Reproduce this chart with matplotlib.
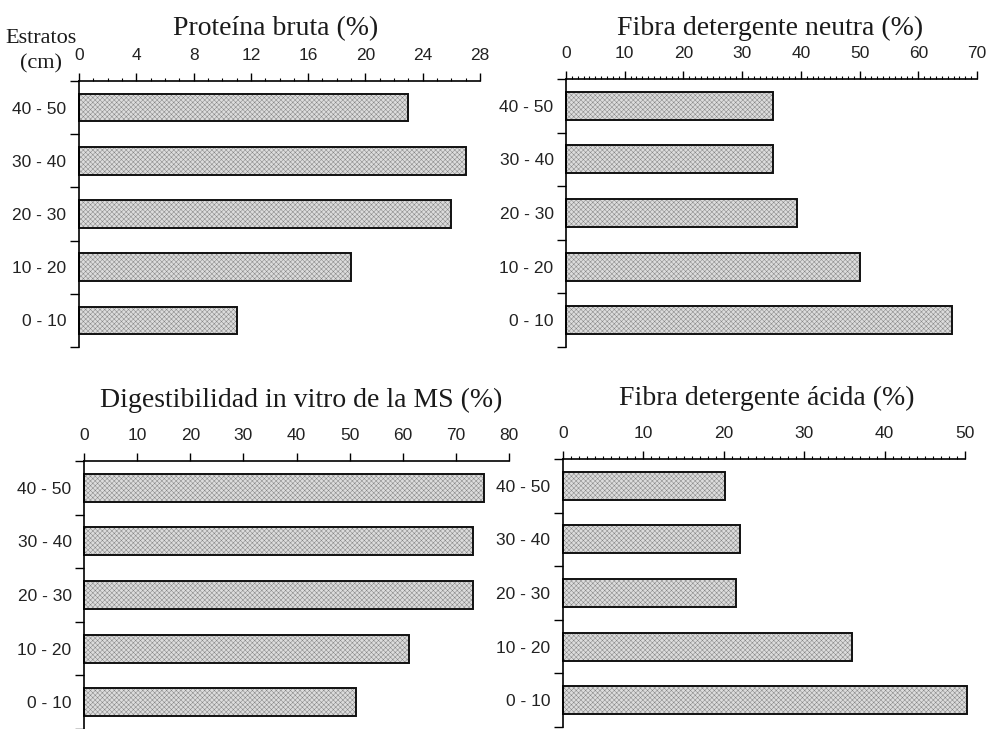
import numpy as np
import matplotlib
matplotlib.use("Agg")
import matplotlib.pyplot as plt
from matplotlib.ticker import MultipleLocator, NullLocator

# data
estratos = ["0 - 10", "10 - 20", "20 - 30", "30 - 40", "40 - 50"]
proteina = [11.0, 19.0, 26.0, 27.0, 23.0]
fdn = [65.7, 50.0, 39.4, 35.3, 35.3]
divms = [51.2, 61.1, 73.3, 73.3, 75.2]
fda = [50.2, 36.0, 21.5, 22.0, 20.1]

W, H = 989, 729
fig = plt.figure(figsize=(W / 100, H / 100), dpi=100)

plt.rcParams["hatch.linewidth"] = 0.35
plt.rcParams["hatch.color"] = "#858585"

serif = "Liberation Serif"
sans = "Liberation Sans"


def panel(box, values, xmax, major, minor, title, title_xy):
    # box in pixels: left, top, right, bottom
    l, t, r, b = box
    ax = fig.add_axes([l / W, 1 - b / H, (r - l) / W, (b - t) / H])
    y = np.arange(len(values))
    ax.barh(y, values, height=0.52, color="#dcdcdc", hatch="xxxxxxx",
            edgecolor="#858585", linewidth=0, clip_on=False)
    ax.barh(y, values, height=0.52, fill=False, edgecolor="#111111",
            linewidth=1.4, clip_on=False)
    ax.set_xlim(0, xmax)
    ax.set_ylim(-0.5, 4.5)

    ax.spines["right"].set_visible(False)
    ax.spines["bottom"].set_visible(False)
    ax.spines["top"].set_linewidth(1.2)
    ax.spines["left"].set_linewidth(1.2)

    ax.xaxis.set_ticks_position("top")
    ax.xaxis.set_major_locator(MultipleLocator(major))
    if minor:
        ax.xaxis.set_minor_locator(MultipleLocator(minor))
    else:
        ax.xaxis.set_minor_locator(NullLocator())
    ax.tick_params(axis="x", which="major", direction="out", length=6,
                   width=1.0, pad=7, labelsize=12.5, labelcolor="#222222")
    ax.tick_params(axis="x", which="minor", direction="out", length=2.5,
                   width=0.8)

    ax.set_yticks(y)
    ax.set_yticklabels(estratos)
    ax.set_yticks(np.arange(-0.5, 5.0, 1.0), minor=True)
    ax.tick_params(axis="y", which="major", length=0, pad=9, labelsize=12.5,
                   labelcolor="#222222")
    ax.tick_params(axis="y", which="minor", direction="out", length=6.5,
                   width=1.0)
    for lab in ax.get_xticklabels() + ax.get_yticklabels():
        lab.set_fontfamily(sans)

    fig.text(title_xy[0] / W, 1 - title_xy[1] / H, title, fontsize=20,
             family=serif, ha="center", va="baseline", color="#1a1a1a")
    return ax


panel((79, 81, 480, 347), proteina, 28, 4, 1,
      "Proteína bruta (%)", (276, 35))
panel((566, 79, 977, 347), fdn, 70, 10, 1,
      "Fibra detergente neutra (%)", (770, 35))
panel((84, 461, 509, 729), divms, 80, 10, None,
      "Digestibilidad in vitro de la MS (%)", (301, 407))
panel((563, 459, 965, 727), fda, 50, 10, 1,
      "Fibra detergente ácida (%)", (767, 405))

fig.text(77 / W, 1 - 43 / H, "Estratos", fontsize=16, family=serif,
         ha="right", va="baseline", color="#1a1a1a")
fig.text(62 / W, 1 - 68 / H, "(cm)", fontsize=16, family=serif,
         ha="right", va="baseline", color="#1a1a1a")

fig.savefig("out.png", dpi=100)
